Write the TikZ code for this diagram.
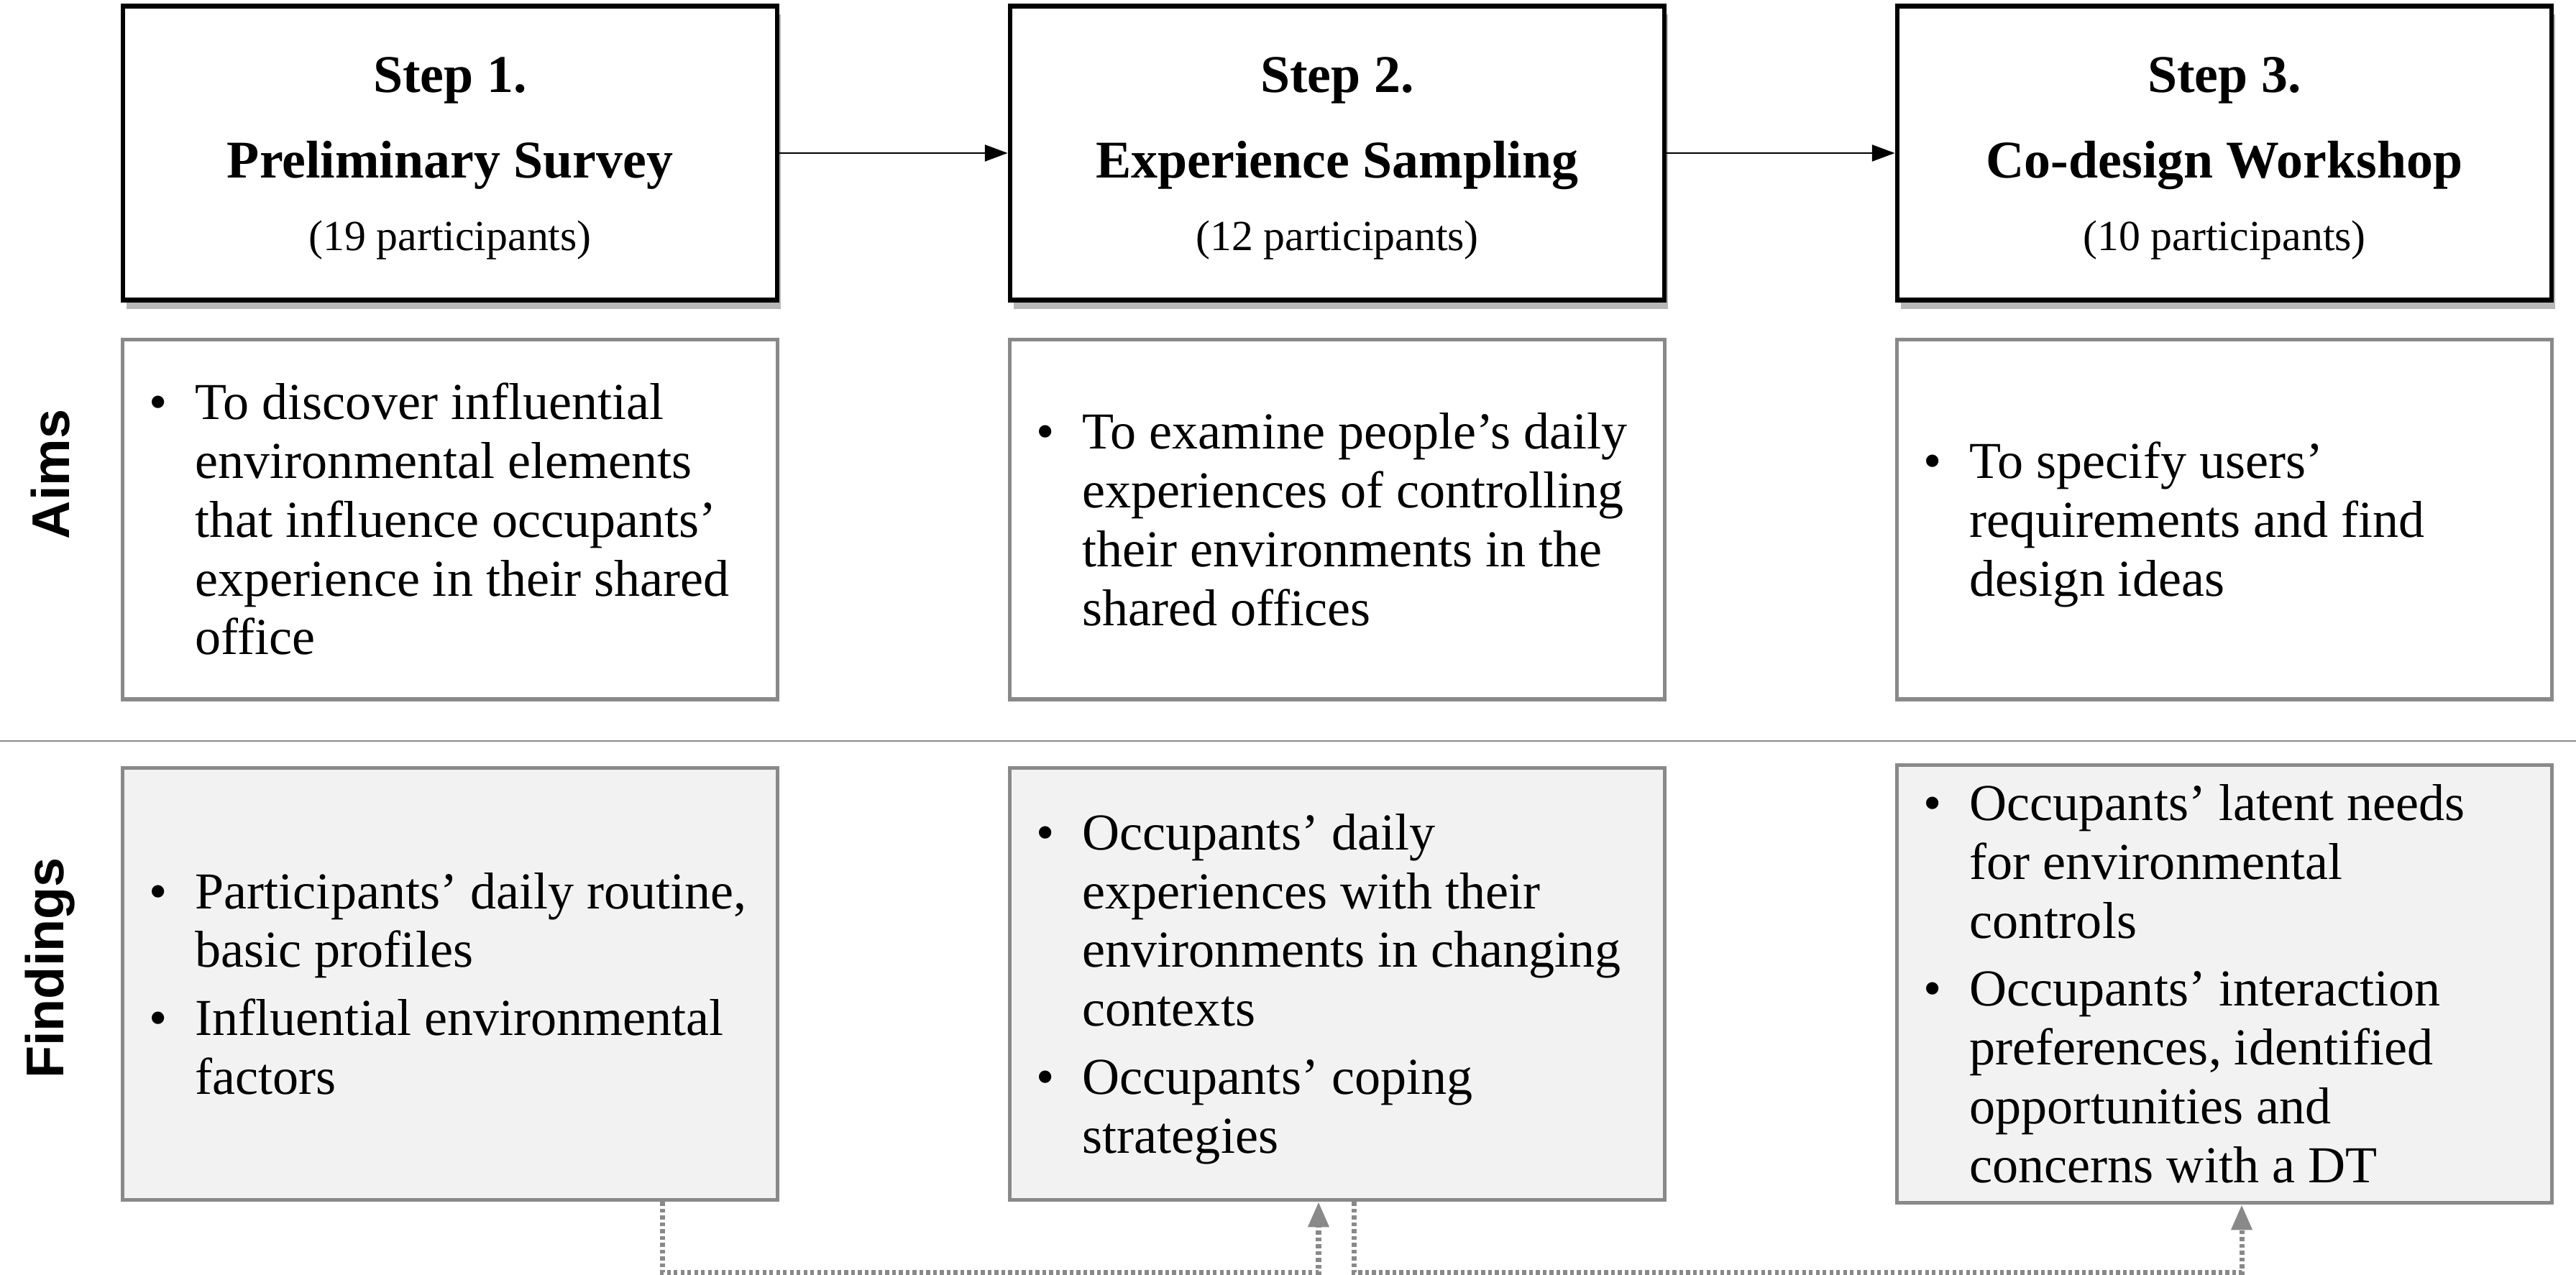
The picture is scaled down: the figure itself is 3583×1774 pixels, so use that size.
\documentclass[tikz,border=0pt]{standalone}
\usepackage{fontspec}
\setmainfont{Liberation Serif}
\newfontfamily\sidefont{Liberation Sans}
\usepackage{xcolor}
\usepackage{tikz}
\usetikzlibrary{arrows.meta,shadows}

\definecolor{boxgray}{RGB}{137,137,137}
\definecolor{findfill}{RGB}{242,242,242}
\newcommand{\pointlist}[1]{\raisebox{-2.2pt}[\height][\depth]{\makebox[8.36cm][l]{\begin{tabular}{@{}p{0.64cm}@{}l@{}}#1\end{tabular}}}}
\newcommand{\pt}{\textbullet &}

\tikzset{
  stepbox/.style={draw=black, line width=1.8pt, fill=white,
    minimum width=9.1cm, minimum height=4.09cm, align=center,
    font=\fontsize{21}{32}\selectfont,
    drop shadow={shadow xshift=0.05cm, shadow yshift=-0.12cm, opacity=0.4, fill=black!70}},
  aimbox/.style={draw=boxgray, line width=1.5pt, fill=white,
    inner xsep=0.37cm, minimum width=9.1cm, minimum height=5cm,
    font=\fontsize{20.5}{23.3}\selectfont},
  findbox/.style={aimbox, fill=findfill, minimum height=6.01cm},
  sidelabel/.style={rotate=90, font=\sidefont\bfseries\fontsize{21}{25}\selectfont},
  flow/.style={-{Triangle[length=9pt,width=6.5pt]}, line width=0.7pt},
  link/.style={-{Triangle[length=10pt,width=8pt]}, draw=boxgray, line width=2pt,
    dash pattern=on 1.5pt off 1.2pt}
}

\begin{document}
\begin{tikzpicture}[x=0.01cm, y=-0.01cm]
                \useasboundingbox (0,0) rectangle (3583,1774);
                % steps
                \node[stepbox] (s1) at (626,213) {\rule{0pt}{18pt}\textbf{Step 1.}\\[2pt] \textbf{Preliminary Survey}\\[-3.5pt] {\fontsize{17}{30}\selectfont (19 participants)}};
                \node[stepbox] (s2) at (1860,213) {\rule{0pt}{18pt}\textbf{Step 2.}\\[2pt] \textbf{Experience Sampling}\\[-3.5pt] {\fontsize{17}{30}\selectfont (12 participants)}};
                \node[stepbox] (s3) at (3094,213) {\rule{0pt}{18pt}\textbf{Step 3.}\\[2pt] \textbf{Co-design Workshop}\\[-3.5pt] {\fontsize{17}{30}\selectfont (10 participants)}};
                \draw[flow] (s1.east) -- (s2.west);
                \draw[flow] (s2.east) -- (s3.west);
                % aims
                \node[sidelabel] (aims) at (70,660) {Aims};
                \node[aimbox] (a1) at (626,723) {\pointlist{\pt To discover influential\\ & environmental elements\\ & that influence occupants’\\ & experience in their shared\\ & office}};
                \node[aimbox] (a2) at (1860,723) {\pointlist{\pt To examine people’s daily\\ & experiences of controlling\\ & their environments in the\\ & shared offices}};
                \node[aimbox] (a3) at (3094,723) {\pointlist{\pt To specify users’\\ & requirements and find\\ & design ideas}};
                \draw[boxgray, line width=0.6pt] (0,1031) -- (3583,1031);
                % findings
                \node[sidelabel] (findings) at (70,1347) {Findings};
                \node[findbox] (f1) at (626,1369) {\pointlist{\pt Participants’ daily routine,\\ & basic profiles\\[3.5pt] \pt Influential environmental\\ & factors}};
                \node[findbox] (f2) at (1860,1369) {\pointlist{\pt Occupants’ daily\\ & experiences with their\\ & environments in changing\\ & contexts\\[3.5pt] \pt Occupants’ coping\\ & strategies}};
                \node[findbox] (f3) at (3094,1369) {\pointlist{\pt Occupants’ latent needs\\ & for environmental\\ & controls\\[3.5pt] \pt Occupants’ interaction\\ & preferences, identified\\ & opportunities and\\ & concerns with a DT}};
                \draw[link] ([xshift=2.95cm]f1.south) -- ++(0,98) -| ([xshift=-0.26cm]f2.south);
                \draw[link] ([xshift=0.23cm]f2.south) -- ++(0,98) -| ([xshift=0.24cm]f3.south);
\end{tikzpicture}
\end{document}
